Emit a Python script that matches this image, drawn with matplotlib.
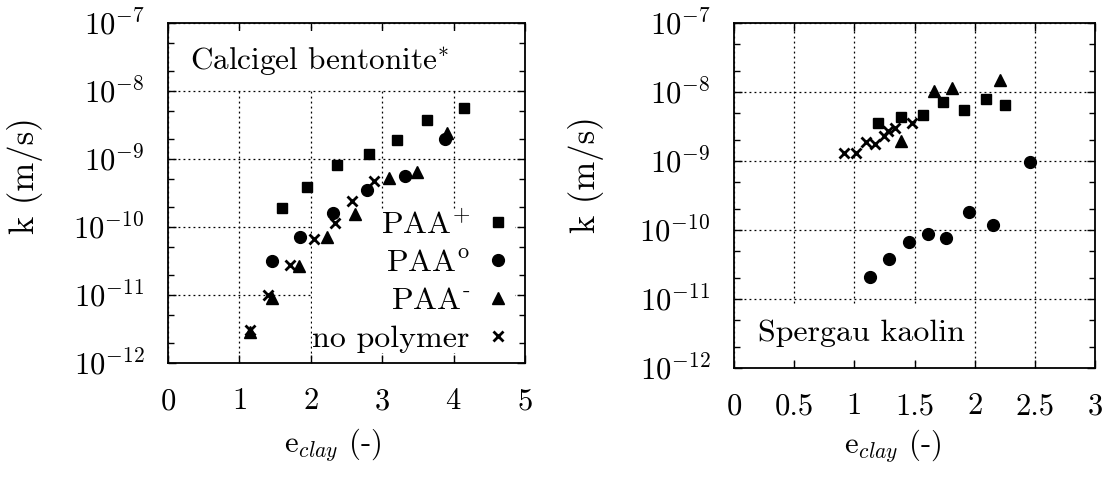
import matplotlib
matplotlib.use("Agg")
import matplotlib.pyplot as plt
from matplotlib.patches import Rectangle
from matplotlib.ticker import LogLocator, MultipleLocator, NullFormatter

plt.rcParams["font.family"] = ["cmr10"]
plt.rcParams["mathtext.fontset"] = "cm"
plt.rcParams["axes.formatter.use_mathtext"] = True

# Calcigel bentonite
bent_paap_e = [1.59, 1.94, 2.36, 2.81, 3.20, 3.63, 4.14]
bent_paap_k = [1.9e-10, 3.9e-10, 8.1e-10, 1.2e-9, 1.9e-9, 3.7e-9, 5.6e-9]
bent_paa0_e = [1.45, 1.85, 2.31, 2.78, 3.32, 3.88]
bent_paa0_k = [3.2e-11, 7.1e-11, 1.6e-10, 3.5e-10, 5.6e-10, 1.95e-9]
bent_paam_e = [1.15, 1.45, 1.83, 2.22, 2.62, 3.09, 3.48, 3.91]
bent_paam_k = [2.9e-12, 9.0e-12, 2.7e-11, 7.2e-11, 1.55e-10, 5.2e-10, 6.5e-10, 2.4e-9]
bent_none_e = [1.15, 1.40, 1.71, 2.04, 2.34, 2.57, 2.88]
bent_none_k = [3.1e-12, 1.0e-11, 2.8e-11, 6.6e-11, 1.15e-10, 2.4e-10, 4.8e-10]

# Spergau kaolin
kao_paap_e = [1.20, 1.39, 1.57, 1.74, 1.91, 2.09, 2.25]
kao_paap_k = [3.6e-9, 4.4e-9, 4.7e-9, 7.2e-9, 5.5e-9, 7.8e-9, 6.5e-9]
kao_paa0_e = [1.13, 1.29, 1.45, 1.61, 1.76, 1.95, 2.15, 2.46]
kao_paa0_k = [2.05e-11, 3.8e-11, 6.6e-11, 8.8e-11, 7.6e-11, 1.8e-10, 1.19e-10, 9.8e-10]
kao_paam_e = [1.39, 1.66, 1.81, 2.21]
kao_paam_k = [1.96e-9, 1.04e-8, 1.13e-8, 1.49e-8]
kao_none_e = [0.91, 1.01, 1.10, 1.17, 1.25, 1.28, 1.34, 1.48]
kao_none_k = [1.3e-9, 1.31e-9, 1.86e-9, 1.74e-9, 2.3e-9, 2.7e-9, 3.0e-9, 3.6e-9]

labels = [r"PAA$^{+}$", r"PAA$^{\mathrm{o}}$", r"PAA$^{\text{-}}$", "no polymer"]

fig = plt.figure(figsize=(11.1, 4.79), dpi=100)
ax1 = fig.add_axes([0.1514, 0.2422, 0.3216, 0.7098])
ax2 = fig.add_axes([0.6613, 0.2317, 0.3252, 0.7203])


def draw(ax, data):
    styles = [dict(marker="s", ms=7),
              dict(marker="o", ms=8.5),
              dict(marker="^", ms=8.5),
              dict(marker="x", ms=7.5, mew=2)]
    for (e, k), lab, st in zip(data, labels, styles):
        ax.plot(e, k, linestyle="none", color="black", label=lab, zorder=3, **st)
    ax.set_yscale("log")
    ax.set_ylim(1e-12, 1e-7)
    ax.yaxis.set_major_locator(LogLocator(base=10, numticks=10))
    ax.yaxis.set_minor_locator(LogLocator(base=10, subs=(2, 5), numticks=10))
    ax.yaxis.set_minor_formatter(NullFormatter())
    ax.grid(True, which="major", color="black", linestyle=(0, (1.5, 2.5)), linewidth=0.9)
    ax.set_axisbelow(True)
    ax.tick_params(which="both", direction="in", top=True, right=True, width=1)
    ax.tick_params(which="major", length=6)
    ax.tick_params(which="minor", length=4)
    ax.tick_params(axis="x", labelsize=22, pad=18)
    ax.tick_params(axis="y", labelsize=22, pad=17)
    for sp in ax.spines.values():
        sp.set_linewidth(1.3)
    ax.set_ylabel("k (m/s)", fontsize=25)
    ax.set_xlabel(r"$\mathrm{e}_{clay}$ (-)", fontsize=22)


draw(ax1, [(bent_paap_e, bent_paap_k), (bent_paa0_e, bent_paa0_k),
           (bent_paam_e, bent_paam_k), (bent_none_e, bent_none_k)])
ax1.set_xlim(0, 5)
ax1.xaxis.set_major_locator(MultipleLocator(1))
ax1.yaxis.set_label_coords(-0.35, 0.55)
ax1.xaxis.set_label_coords(0.46, -0.185)
# white area behind the panel label hides the grid there
ax1.add_patch(Rectangle((0.025, 0.805), 0.8, 0.17, transform=ax1.transAxes,
                        facecolor="white", edgecolor="none", zorder=1))
ax1.text(0.062, 0.935, r"Calcigel bentonite$^{*}$", transform=ax1.transAxes, fontsize=22.5,
         va="top", ha="left", zorder=3)
leg = ax1.legend(loc="lower right", fontsize=23, markerfirst=False, frameon=True,
                 framealpha=1, edgecolor="none", fancybox=False, handlelength=1.1,
                 handletextpad=0.33, labelspacing=0.3, borderaxespad=0.3, borderpad=0.0)
leg.set_zorder(2.5)
for t in leg.get_texts():
    t.set_ha("right")

draw(ax2, [(kao_paap_e, kao_paap_k), (kao_paa0_e, kao_paa0_k),
           (kao_paam_e, kao_paam_k), (kao_none_e, kao_none_k)])
ax2.set_xlim(0, 3)
ax2.xaxis.set_major_locator(MultipleLocator(0.5))
ax2.xaxis.set_major_formatter(plt.FuncFormatter(lambda v, p: f"{v:g}"))
ax2.yaxis.set_label_coords(-0.36, 0.56)
ax2.xaxis.set_label_coords(0.44, -0.17)
ax2.add_patch(Rectangle((0.025, 0.025), 0.62, 0.155, transform=ax2.transAxes,
                        facecolor="white", edgecolor="none", zorder=1))
ax2.text(0.065, 0.06, "Spergau kaolin", transform=ax2.transAxes, fontsize=23,
         va="bottom", ha="left", zorder=3)

fig.savefig("out.png", dpi=100)
